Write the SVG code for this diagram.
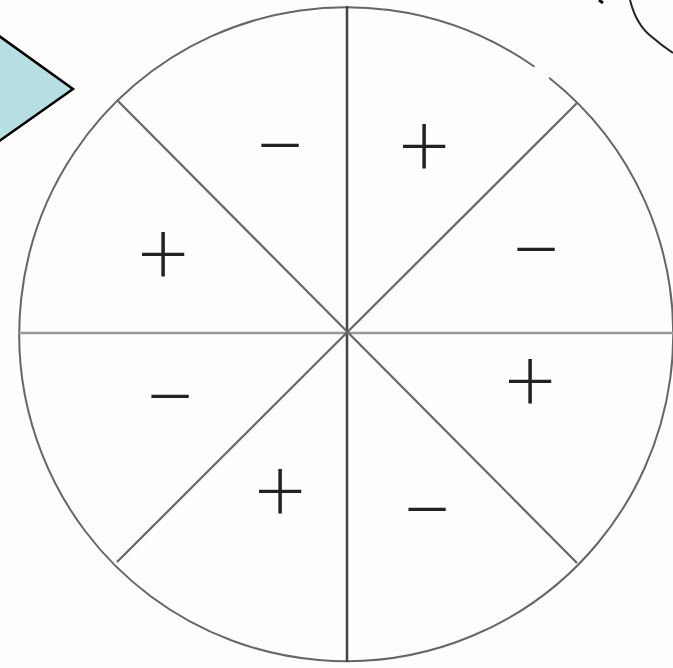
<svg xmlns="http://www.w3.org/2000/svg" width="673" height="668" viewBox="0 0 673 668">
<style>
.sign{font-family:Lato,"DejaVu Sans",sans-serif;font-weight:300;font-size:90px;fill:#222;text-anchor:middle}
.ln{fill:none;stroke-linecap:butt}
</style>
<rect width="673" height="668" fill="#fdfdfb"/>
<g id="arrow">
<polygon points="-5,33 73,89 -5,144" fill="#b7dfe3" stroke="#000" stroke-width="2.5" stroke-linejoin="miter"/>
</g>
<g id="scribble">
<path d="M630,0 C634,16 640,28 652,37 C660,44 667,49 673,53" class="ln" stroke="#222" stroke-width="2"/>
<path d="M599,0 L603,3" class="ln" stroke="#111" stroke-width="3"/>
</g>
<g id="wheel">
<path d="M549.1,77.7 A327,327 0 1 1 534.5,66.8" class="ln" stroke="#666" stroke-width="2"/>
</g>
<g id="connectors">
<line x1="347" y1="6" x2="347" y2="662" class="ln" stroke="#444" stroke-width="2.5"/>
<line x1="19" y1="333" x2="673" y2="333" class="ln" stroke="#999" stroke-width="2.5"/>
<line x1="117" y1="100" x2="577" y2="563" class="ln" stroke="#666" stroke-width="2.2"/>
<line x1="577" y1="103" x2="117" y2="562" class="ln" stroke="#666" stroke-width="2.2"/>
</g>
<g id="signs">
<text class="sign" x="280" y="176">−</text>
<text class="sign" x="424" y="177">+</text>
<text class="sign" x="163" y="285">+</text>
<text class="sign" x="536" y="280">−</text>
<text class="sign" x="170" y="427">−</text>
<text class="sign" x="530" y="412">+</text>
<text class="sign" x="280" y="522">+</text>
<text class="sign" x="427" y="540">−</text>
</g>
</svg>
